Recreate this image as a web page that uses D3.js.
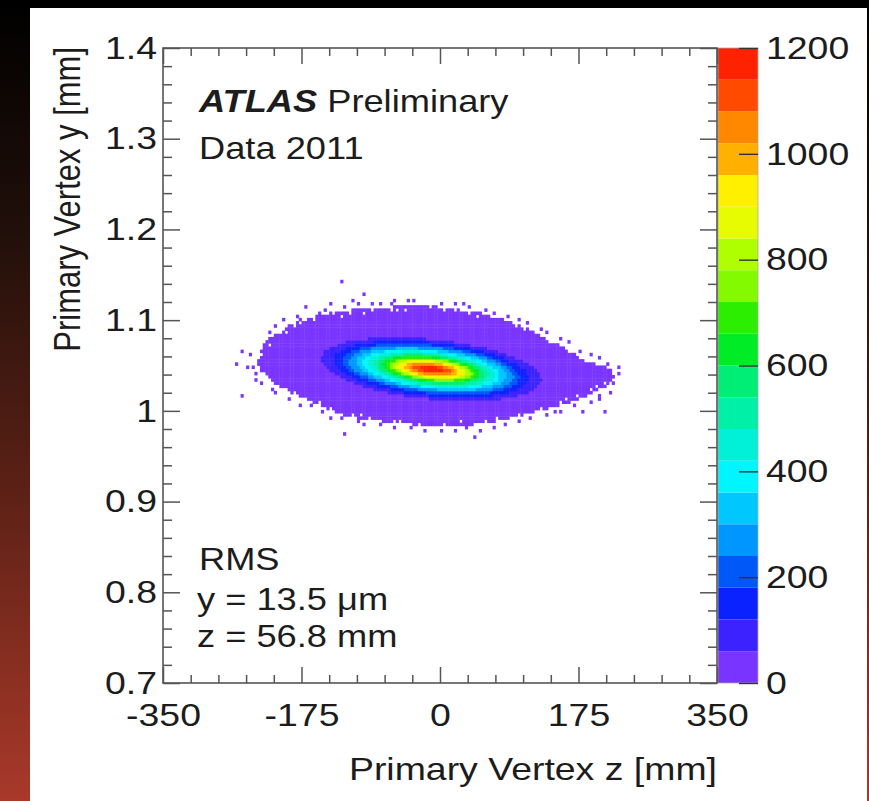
<!DOCTYPE html>
<html>
<head>
<meta charset="utf-8">
<script src="https://cdn.jsdelivr.net/npm/d3@7"></script>
<style>
html, body { margin: 0; padding: 0; background: #000; }
svg { display: block; }
text { font-family: "Liberation Sans", Arial, Helvetica, sans-serif; fill: #1c1c1c; }
</style>
</head>
<body>
<div id="chart"></div>
<script>
// axis ticks
const zTicks = [-350, -175, 0, 175, 350];
const zTickLabels = ['-350', '-175', '0', '175', '350'];
const yTicks = [0.7, 0.8, 0.9, 1.0, 1.1, 1.2, 1.3, 1.4];
const yTickLabels = ['0.7', '0.8', '0.9', '1', '1.1', '1.2', '1.3', '1.4'];
const countTicks = [0, 200, 400, 600, 800, 1000, 1200];

// 20 contour colours, 0 -> 1200 entries
const paletteColors = [
	'#7a34ff', '#3c22ff', '#0a22ff', '#0058f8', '#0096ff', '#00c8ff', '#00f6ff', '#00f0d8',
	'#00f0a8', '#00ee76', '#00ec26', '#2cee00', '#84fa00', '#b0ff00', '#e8fc00', '#fff000',
	'#ffb000', '#ff8800', '#ff4a00', '#ff2200'
];

// contour levels of the beam spot (entries per bin) with their half sizes
const bandThresholds = [60, 120, 180, 240, 300, 360, 420, 480, 540, 600, 660, 720, 780, 840, 900, 960, 1020, 1080, 1140];
const bandHalfZ = [139, 123, 111, 104, 95, 86, 80, 73, 67, 61, 56, 52, 48, 44, 39, 34, 29, 24, 15]; // mm
const bandHalfY = [0.0331, 0.0298, 0.0265, 0.0243, 0.0220, 0.0204, 0.0187, 0.0171, 0.0154, 0.0138,
	0.0127, 0.0116, 0.0105, 0.0094, 0.0083, 0.0072, 0.0061, 0.0044, 0.0028]; // mm
const beamCentre = [-11, 1.0462]; // z mm, y mm
const beamTilt = 8.25e-5; // y drop per mm of z

// outline of the non-empty region [z, y]
const outerEdge = [
	[-230, 1.0539], [-225, 1.0693], [-217, 1.0803], [-202, 1.0858], [-190, 1.0947], [-171, 1.1002],
	[-152, 1.1057], [-126, 1.1101], [-101, 1.1123], [-76, 1.1134], [-51, 1.1156], [-25, 1.1167],
	[0, 1.1145], [25, 1.1112], [51, 1.1079], [76, 1.1024], [95, 1.0958], [114, 1.0892],
	[133, 1.0803], [152, 1.0715], [171, 1.0627], [190, 1.0539], [205, 1.0495], [217, 1.0451],
	[220, 1.0384], [212, 1.0285], [196, 1.0230], [183, 1.0153], [164, 1.0098], [139, 1.0032],
	[114, 0.9977], [88, 0.9921], [63, 0.9877], [38, 0.9844], [13, 0.9833], [-13, 0.9833],
	[-38, 0.9855], [-63, 0.9877], [-88, 0.9899], [-114, 0.9932], [-133, 0.9988], [-152, 1.0065],
	[-171, 1.0142], [-190, 1.0208], [-205, 1.0274], [-217, 1.0362], [-227, 1.0451]
];

// isolated single-entry bins outside the outline [z, y]
const strayBins = [
	[-124, 1.1410], [-97, 1.1288], [-171, 1.1145], [-249, 1.0671], [-259, 1.0528], [-236, 1.0484],
	[-250, 1.0164], [-120, 0.9756], [42, 0.9712], [208, 1.0010], [215, 1.0208], [179, 0.9977],
	[227, 1.0429], [-208, 1.0925], [-198, 1.0991], [-181, 1.1046], [-139, 1.1167], [-111, 1.1200],
	[-86, 1.1178], [-57, 1.1211], [-32, 1.1211], [19, 1.1178], [38, 1.1156], [69, 1.1090],
	[101, 1.1002], [126, 1.0892], [152, 1.0803], [177, 1.0671], [202, 1.0583], [200, 1.0120],
	[152, 0.9988], [114, 0.9921], [82, 0.9855], [51, 0.9789], [19, 0.9778], [-19, 0.9778],
	[-57, 0.9811], [-95, 0.9844], [-139, 0.9921], [-177, 1.0076], [-208, 1.0208], [-234, 1.0340],
	[-240, 1.0616],
	[-215, 1.0858], [-192, 1.0936], [-177, 1.1024], [-154, 1.1090], [-145, 1.1123], [-120, 1.1145],
	[-104, 1.1167], [-76, 1.1178], [-61, 1.1178], [-40, 1.1200], [0, 1.1189], [28, 1.1167],
	[57, 1.1123], [86, 1.1057], [111, 1.0969], [136, 1.0858], [162, 1.0759], [190, 1.0605],
	[212, 1.0517], [224, 1.0473],
	[217, 1.0318], [202, 1.0175], [190, 1.0098], [171, 1.0054], [145, 0.9977], [133, 0.9943],
	[101, 0.9888], [69, 0.9833], [32, 0.9800], [0, 0.9789], [-38, 0.9811], [-76, 0.9844],
	[-105, 0.9877], [-126, 0.9932], [-149, 0.9999], [-164, 1.0076], [-190, 1.0142], [-212, 1.0230],
	[-225, 1.0307], [-234, 1.0429], [-243, 1.0495]
];

// empty bins along the ragged rim [z, y]
const emptyBins = [
	[-177, 1.0980], [-158, 1.1024], [-135, 1.1068], [-114, 1.1079], [-86, 1.1101], [-63, 1.1112],
	[-44, 1.1123], [-13, 1.1134], [19, 1.1112], [38, 1.1079], [63, 1.1046], [82, 1.1002],
	[107, 1.0914], [126, 1.0836], [145, 1.0748], [164, 1.0649], [183, 1.0561], [202, 1.0506],
	[208, 1.0318], [192, 1.0252], [174, 1.0175], [152, 1.0087], [126, 1.0021], [101, 0.9966],
	[73, 0.9910], [44, 0.9866], [6, 0.9844], [-25, 0.9855], [-57, 0.9888], [-88, 0.9921],
	[-111, 0.9955], [-139, 1.0021], [-162, 1.0109], [-183, 1.0186], [-202, 1.0252], [-217, 1.0340],
	[-225, 1.0616], [-217, 1.0737], [-196, 1.0858],
	[-183, 1.0936], [-126, 1.1046], [-95, 1.1079], [-53, 1.1101], [6, 1.1101], [48, 1.1046],
	[95, 1.0925], [139, 1.0759], [177, 1.0583], [196, 1.0274], [158, 1.0120], [120, 1.0010],
	[57, 0.9899], [25, 0.9877], [-51, 0.9899], [-101, 0.9955], [-152, 1.0098], [-196, 1.0252],
	[-221, 1.0429]
];

const zBinWidth = 3.5;
const yBinWidth = 0.0035;

const W = 869, H = 801;
const plot = { left: 163, right: 717, top: 48, bottom: 683 };
const S = 1.17; // the picture is a little wider than tall

const svg = d3.select('#chart').append('svg').attr('width', W).attr('height', H);
const defs = svg.append('defs');

const grad = defs.append('linearGradient').attr('id', 'bg').attr('x1', 0).attr('y1', 0).attr('x2', 0).attr('y2', 1);
grad.append('stop').attr('offset', '0%').attr('stop-color', '#000');
grad.append('stop').attr('offset', '30%').attr('stop-color', '#22100a');
grad.append('stop').attr('offset', '62%').attr('stop-color', '#5e2116');
grad.append('stop').attr('offset', '100%').attr('stop-color', '#a9392a');

defs.append('filter').attr('id', 'soft')
	.append('feGaussianBlur').attr('stdDeviation', 0.6);

svg.append('rect').attr('width', W).attr('height', H).attr('fill', '#000');
svg.append('rect').attr('x', 0).attr('y', 0).attr('width', 30).attr('height', H).attr('fill', 'url(#bg)');
svg.append('rect').attr('x', 867).attr('y', 0).attr('width', 2).attr('height', H).attr('fill', 'url(#bg)');
svg.append('rect').attr('x', 30).attr('y', 8).attr('width', 837).attr('height', H - 8).attr('fill', '#fff');

const x = d3.scaleLinear().domain([-350, 350]).range([plot.left, plot.right]);
const y = d3.scaleLinear().domain([0.7, 1.4]).range([plot.bottom, plot.top]);
const c = d3.scaleLinear().domain([0, 1200]).range([plot.bottom, plot.top]);
const color = d3.scaleQuantize().domain([0, 1200]).range(paletteColors);

// fill the histogram bins
const nz = Math.round(700 / zBinWidth), ny = Math.round(0.7 / yBinWidth);
const binKey = ([z, v]) => Math.floor((z + 350) / zBinWidth) + ',' + Math.floor((v - 0.7) / yBinWidth);
const stray = new Set(strayBins.map(binKey));
const empty = new Set(emptyBins.map(binKey));
const cells = [];
for (let i = 0; i < nz; i++) {
	for (let j = 0; j < ny; j++) {
		const z0 = -350 + i * zBinWidth, y0 = 0.7 + j * yBinWidth;
		const zc = z0 + zBinWidth / 2, yc = y0 + yBinWidth / 2;
		const u = zc - beamCentre[0];
		const v = yc - beamCentre[1] + beamTilt * u;
		let count = -1;
		for (let b = bandThresholds.length - 1; b >= 0; b--) {
			if ((u / bandHalfZ[b]) ** 2 + (v / bandHalfY[b]) ** 2 <= 1) { count = bandThresholds[b] + 30; break; }
		}
		const key = i + ',' + j;
		if (count < 0 && !empty.has(key) && (d3.polygonContains(outerEdge, [zc, yc]) || stray.has(key))) count = 30;
		if (count >= 0) cells.push({ z0, y0, count });
	}
}

svg.append('g').attr('filter', 'url(#soft)')
	.selectAll('rect').data(cells).join('rect')
	.attr('x', d => x(d.z0))
	.attr('y', d => y(d.y0 + yBinWidth))
	.attr('width', x(zBinWidth) - x(0) + 0.4)
	.attr('height', y(0.7) - y(0.7 + yBinWidth) + 0.4)
	.attr('fill', d => color(d.count));

function stretch(sel) {
	sel.each(function () {
		const t = d3.select(this);
		t.attr('x', (+t.attr('x') || 0) / S).attr('transform', `scale(${S},1)`);
	});
}

// colour bar
const barX = plot.right + 1, barW = 40;
const bands = d3.range(paletteColors.length).map(i => [i * 60, (i + 1) * 60]);
svg.append('g').selectAll('rect').data(bands).join('rect')
	.attr('x', barX).attr('width', barW)
	.attr('y', d => c(d[1])).attr('height', d => c(d[0]) - c(d[1]))
	.attr('fill', d => color(d[0] + 1));
svg.append('rect').attr('x', barX).attr('y', plot.top).attr('width', barW).attr('height', plot.bottom - plot.top)
	.attr('fill', 'none').attr('stroke', '#aaa').attr('stroke-width', 0.8);
const cAxis = svg.append('g').attr('transform', `translate(${barX + barW},0)`)
	.call(d3.axisRight(c).tickValues(countTicks).tickFormat(d3.format('d')).tickSize(-19).tickSizeOuter(0));
cAxis.select('.domain').remove();
cAxis.attr('font-family', null).attr('font-size', null);
cAxis.selectAll('line').attr('stroke', '#333').attr('stroke-width', 1.4);
cAxis.selectAll('text').attr('x', 8).attr('fill', null).style('font-size', '32px').call(stretch);

// axes with inward ticks
function minors(majors) {
	const out = [];
	for (let k = 0; k < majors.length - 1; k++) {
		const step = (majors[k + 1] - majors[k]) / 5;
		for (let m = 1; m < 5; m++) out.push(majors[k] + m * step);
	}
	return out;
}
function styleAxis(g) {
	g.select('.domain').remove();
	g.attr('font-family', null).attr('font-size', null);
	g.selectAll('line').attr('stroke', '#555').attr('stroke-width', 1.5);
	g.selectAll('text').attr('fill', null).style('font-size', '32px').call(stretch);
}

const xMajor = 16, xMinor = 8, yMajor = 17, yMinor = 9;
svg.append('g').attr('transform', `translate(0,${plot.bottom})`)
	.call(d3.axisBottom(x).tickValues(zTicks).tickFormat((d, i) => zTickLabels[i]).tickSize(-xMajor).tickPadding(20))
	.call(styleAxis);
svg.append('g').attr('transform', `translate(0,${plot.bottom})`)
	.call(d3.axisBottom(x).tickValues(minors(zTicks)).tickFormat('').tickSize(-xMinor)).call(styleAxis);
svg.append('g').attr('transform', `translate(0,${plot.top})`)
	.call(d3.axisTop(x).tickValues(zTicks).tickFormat('').tickSize(-xMajor)).call(styleAxis);
svg.append('g').attr('transform', `translate(0,${plot.top})`)
	.call(d3.axisTop(x).tickValues(minors(zTicks)).tickFormat('').tickSize(-xMinor)).call(styleAxis);
svg.append('g').attr('transform', `translate(${plot.left},0)`)
	.call(d3.axisLeft(y).tickValues(yTicks).tickFormat((d, i) => yTickLabels[i]).tickSize(-yMajor).tickPadding(6))
	.call(styleAxis);
svg.append('g').attr('transform', `translate(${plot.left},0)`)
	.call(d3.axisLeft(y).tickValues(minors(yTicks)).tickFormat('').tickSize(-yMinor)).call(styleAxis);
svg.append('g').attr('transform', `translate(${plot.right},0)`)
	.call(d3.axisRight(y).tickValues(yTicks).tickFormat('').tickSize(-yMajor)).call(styleAxis);
svg.append('g').attr('transform', `translate(${plot.right},0)`)
	.call(d3.axisRight(y).tickValues(minors(yTicks)).tickFormat('').tickSize(-yMinor)).call(styleAxis);

svg.append('rect').attr('x', plot.left).attr('y', plot.top)
	.attr('width', plot.right - plot.left).attr('height', plot.bottom - plot.top)
	.attr('fill', 'none').attr('stroke', '#555').attr('stroke-width', 1.6);

// texts placed at (px, py), widened like the picture
function label(px, py, size, rot) {
	return svg.append('text')
		.attr('transform', `translate(${px},${py}) scale(${S},1)` + (rot ? ` rotate(${rot})` : ''))
		.style('font-size', size + 'px');
}

// axis titles
label(plot.right, 780, 32).attr('text-anchor', 'end').text('Primary Vertex z [mm]');
label(80, plot.top - 1, 31, -90).attr('text-anchor', 'end').text('Primary Vertex y [mm]');

// labels
const atlas = label(199, 112, 31);
atlas.append('tspan').style('font-weight', 'bold').style('font-style', 'italic').text('ATLAS');
atlas.append('tspan').text(' Preliminary');
label(199, 159, 31).text('Data 2011');

label(199, 570, 31).text('RMS');
label(197, 610, 31).text('y = 13.5 μm');
label(197, 647, 31).text('z = 56.8 mm');
</script>
</body>
</html>
